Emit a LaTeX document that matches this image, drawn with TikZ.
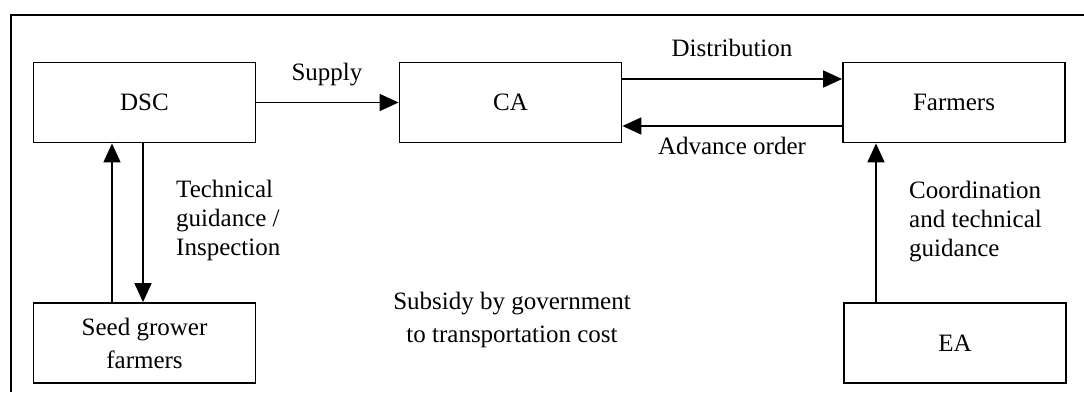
\documentclass[tikz,border=0pt]{standalone}
\usepackage{fontspec}
\setmainfont{Liberation Serif}
\usetikzlibrary{arrows.meta}
\begin{document}
\begin{tikzpicture}[x=1pt,y=-1pt,
  box/.style={draw,line width=1.8pt,minimum width=222pt,minimum height=80pt,inner sep=0pt,align=center},
  flow/.style={line width=1.8pt,-{Triangle[length=19pt,width=17pt]}},
  lbl/.style={inner sep=0pt,align=left},
  side/.style={lbl,anchor=north west,font=\fontsize{25}{29}\selectfont},
  every node/.style={font=\fontsize{25}{33}\selectfont}]
\useasboundingbox (0,0) rectangle (1084,392);
% partial outer frame
\coordinate (fl) at (11,392);
\coordinate (ftl) at (11,15);
\coordinate (fr) at (1084,15);
\draw[line width=1.8pt] (fl) -- (ftl) -- (fr);
% boxes
\node[box] (dsc) at (144.5,102.5) {DSC};
\node[box] (ca) at (510.5,102.5) {CA};
\node[box] (farm) at (954,102.5) {Farmers};
\node[box] (seed) at (144.5,343) {Seed grower\\farmers};
\node[box] (ea) at (955,343) {EA};
% connectors
\draw[flow] (dsc.east) -- (ca.west);
\draw[flow] (ca.east |- 0,79) -- (farm.west |- 0,79);
\draw[flow] (farm.west |- 0,126) -- (ca.east |- 0,126);
\draw[flow] (seed.north -| 112,0) -- (dsc.south -| 112,0);
\draw[flow] (dsc.south -| 143,0) -- (seed.north -| 143,0);
\draw[flow] (ea.north -| 876,0) -- (farm.south -| 876,0);
% labels
\node[lbl] (lsup) at (327,75) {Supply};
\node[lbl] (ldis) at (732,48) {Distribution};
\node[lbl] (ladv) at (732,146) {Advance order};
\node[side] (ltec) at (176,180) {Technical\\guidance /\\Inspection};
\node[side] (lcoo) at (909,181) {Coordination\\and technical\\guidance};
\node[lbl,align=center] (lsub) at (512,320) {Subsidy by government\\to transportation cost};
\end{tikzpicture}
\end{document}
